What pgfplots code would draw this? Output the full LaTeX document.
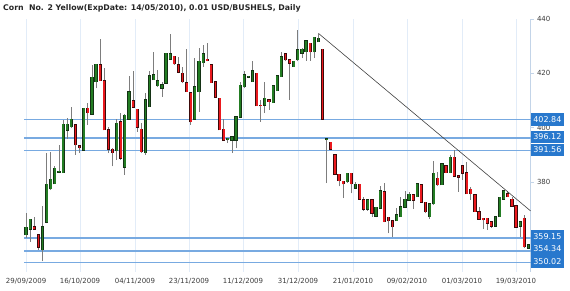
\documentclass[border=0pt]{standalone}
\usepackage{pgfplots}
\pgfplotsset{compat=1.18}
\usepackage{pgfplotstable}
\usepackage{fontspec}
\setmainfont{DejaVu Sans}
\definecolor{gridc}{RGB}{226,236,248}
\definecolor{hlc}{RGB}{120,170,225}
\definecolor{boxc}{RGB}{40,120,205}
\definecolor{axisc}{RGB}{195,212,232}
\definecolor{upc}{RGB}{35,125,35}
\definecolor{upo}{RGB}{20,50,20}
\definecolor{dnc}{RGB}{235,25,30}
\definecolor{dno}{RGB}{60,10,10}
\definecolor{wickc}{RGB}{125,125,125}
\definecolor{labc}{RGB}{60,60,60}
\pgfplotstableread{
i o h l c
0 360.3 368.3 359.1 363.1
1 362.4 366.1 357.8 366.1
2 363.4 367.1 362.2 362.4
3 360.3 360.3 354.8 355.8
4 354.8 371.0 350.5 363.4
5 365.0 390.7 364.6 379.0
6 377.3 391.1 376.9 380.9
7 379.2 385.6 379.2 384.9
8 383.5 393.6 383.1 383.5
9 383.3 402.8 383.3 401.2
10 398.9 403.4 395.7 401.2
11 400.3 407.5 399.7 403.0
12 401.0 401.0 389.9 393.6
13 393.2 393.2 390.5 392.6
14 391.7 407.1 391.7 407.1
15 407.1 409.2 401.0 405.5
16 405.0 423.1 405.0 418.6
17 417.0 423.4 414.5 423.4
18 423.1 432.7 417.3 417.3
19 417.3 421.9 399.1 399.1
20 399.1 400.3 390.5 392.0
21 392.0 392.3 385.6 390.7
22 391.5 403.0 388.0 401.6
23 402.2 405.3 388.0 388.6
24 385.3 405.0 382.5 404.6
25 403.0 419.1 403.0 413.3
26 409.9 421.0 407.1 407.5
27 406.7 406.7 398.5 400.1
28 399.4 401.8 390.5 391.1
29 390.7 412.7 389.9 410.2
30 407.7 420.7 407.5 419.1
31 417.6 427.8 417.6 419.4
32 415.5 421.3 415.1 417.3
33 414.5 417.0 411.4 415.7
34 416.3 427.4 416.3 427.4
35 425.2 434.6 425.2 427.2
36 426.4 426.4 423.1 423.5
37 423.1 426.0 420.0 420.4
38 420.0 422.5 416.3 417.0
39 416.6 428.9 413.3 413.3
40 412.9 412.9 401.0 402.2
41 403.0 425.6 403.0 415.1
42 413.3 429.3 405.9 424.4
43 424.0 430.5 422.3 427.2
44 425.2 431.1 424.4 424.7
45 423.1 423.1 416.6 416.6
46 417.0 417.0 411.2 411.2
47 410.8 410.8 399.1 399.1
48 399.4 403.0 395.2 395.2
49 395.4 396.0 394.2 396.0
50 395.2 396.6 390.5 396.6
51 395.2 404.0 392.3 404.0
52 403.8 417.0 403.8 415.6
53 415.1 420.7 414.5 419.4
54 418.6 419.0 418.2 418.6
55 417.0 424.4 417.0 421.0
56 420.0 420.0 408.0 408.0
57 408.3 410.2 402.2 408.0
58 408.3 417.0 405.3 410.8
59 410.2 410.2 406.5 409.6
60 409.2 415.4 409.2 415.4
61 413.6 419.4 413.6 419.1
62 418.8 428.0 418.8 426.2
63 427.2 427.4 424.4 425.0
64 425.0 425.0 410.2 423.7
65 422.5 424.4 422.5 424.4
66 425.0 436.1 424.4 428.7
67 427.4 429.3 425.6 428.9
68 428.0 432.1 424.7 432.1
69 431.1 431.4 424.7 428.0
70 428.0 433.3 425.6 433.3
71 431.7 434.6 431.7 433.0
72 428.9 428.9 403.0 403.0
73 395.5 395.8 379.4 395.5
74 394.5 394.5 392.0 392.0
75 389.9 389.9 382.8 382.8
76 382.8 382.8 378.2 380.4
77 380.1 380.1 373.9 379.2
78 380.0 383.1 379.6 383.1
79 383.1 383.1 375.7 379.2
80 377.6 380.0 377.6 379.0
81 379.0 379.0 373.5 373.5
82 373.2 374.5 369.3 369.8
83 369.8 373.2 369.3 373.2
84 373.2 373.2 367.1 368.3
85 367.3 370.5 366.8 370.5
86 370.2 378.4 370.2 376.6
87 376.3 379.6 364.9 365.2
88 366.8 366.8 360.9 365.5
89 365.6 365.6 359.7 363.4
90 365.5 370.2 365.5 367.7
91 367.1 374.5 367.1 370.8
92 370.5 376.7 370.2 373.5
93 373.2 376.3 373.2 375.3
94 375.1 375.1 369.8 373.2
95 374.5 379.4 374.5 379.2
96 378.8 378.8 372.3 372.3
97 372.3 372.3 368.3 368.9
98 367.1 371.8 366.1 371.8
99 371.8 387.7 371.4 383.1
100 381.3 383.7 378.4 378.8
101 378.8 386.5 378.8 386.5
102 385.8 385.8 383.1 383.3
103 383.3 389.9 383.1 389.0
104 389.0 391.7 381.6 381.9
105 382.1 382.1 376.3 381.6
106 385.8 385.8 380.6 383.1
107 383.3 387.4 375.5 375.5
108 377.2 377.9 373.2 375.5
109 375.1 375.1 368.9 368.9
110 368.9 370.8 365.9 366.1
111 366.5 366.5 362.4 365.9
112 366.5 366.5 362.2 364.6
113 365.2 365.2 362.8 363.6
114 363.6 367.3 363.4 367.1
115 367.1 374.2 367.1 374.2
116 373.5 376.9 373.5 376.7
117 375.5 376.7 374.5 374.5
118 373.5 374.5 370.8 371.0
119 371.0 371.0 363.2 363.2
120 363.6 365.2 359.5 365.2
121 366.5 367.5 355.4 356.0
122 355.4 356.6 355.4 356.6
}\candles
\tikzset{lvl/.style={fill=boxc, text=white, anchor=west, minimum width=33.3pt, minimum height=12.7pt, inner sep=0pt, font=\fontsize{8}{9}\selectfont}}
\begin{document}
\begin{tikzpicture}
\path[use as bounding box] (0,0) rectangle (570pt,291pt);
\node[anchor=west, inner sep=0pt, text=black!85, font=\bfseries\fontsize{7.8}{9}\selectfont] at (3pt,283pt) {Corn\ \ No. 2 Yellow(ExpDate: 14/05/2010), 0.01 USD/BUSHELS, Daily};
\begin{axis}[
  at={(24pt,19pt)}, anchor=south west,
  scale only axis, width=506.5pt, height=253pt,
  xmin=-0.5, xmax=122.5, ymin=346.6, ymax=440.1,
  axis y line*=right, axis x line*=bottom,
  x axis line style={draw=none},
  y axis line style={draw=axisc, line width=1pt},
  xtick={0,13.1,26.45,39.57,52.68,66.04,79.4,92.5,105.86,118.97},
  xticklabels={29/09/2009,16/10/2009,04/11/2009,23/11/2009,11/12/2009,31/12/2009,21/01/2010,09/02/2010,01/03/2010,19/03/2010},
  xmajorgrids, major x grid style={draw=gridc, line width=0.8pt},
  x tick style={draw=none},
  ytick={360,380,400,420,440},
  yticklabels={{},380,400,420,440},
  y tick style={draw=axisc},
  tick align=outside, major tick length=3pt,
  yticklabel style={font=\fontsize{7}{8}\selectfont, text=labc},
  xticklabel style={font=\fontsize{7}{8}\selectfont, text=labc},
  /pgf/number format/assume math mode=true,
  clip=false,
]
% support / resistance levels
\addplot[hlc, line width=1.3pt] coordinates {(-0.5,402.84) (122.5,402.84)};
\addplot[hlc, line width=1.3pt] coordinates {(-0.5,396.12) (122.5,396.12)};
\addplot[hlc, line width=1.3pt] coordinates {(-0.5,391.56) (122.5,391.56)};
\addplot[hlc, line width=1.3pt] coordinates {(-0.5,359.15) (122.5,359.15)};
\addplot[hlc, line width=1.3pt] coordinates {(-0.5,354.34) (122.5,354.34)};
\addplot[hlc, line width=1.3pt] coordinates {(-0.5,350.02) (122.5,350.02)};
% wicks
\addplot[draw=none, mark=none, error bars/.cd, y dir=plus, y explicit, error mark=none,
  error bar style={draw=wickc, line width=0.8pt}]
  table[x=i, y=l, y error plus expr=\thisrow{h}-\thisrow{l}] {\candles};
% bodies: outline
\addplot[draw=none, mark=none, restrict expr to domain={\thisrow{c}-\thisrow{o}}{0:1000}, error bars/.cd, y dir=plus, y explicit, error mark=none,
  error bar style={draw=upo, line width=3.2pt}]
  table[x=i, y expr={min(\thisrow{o},\thisrow{c})-0.2}, y error plus expr={max(abs(\thisrow{c}-\thisrow{o}),0.3)+0.4}] {\candles};
\addplot[draw=none, mark=none, restrict expr to domain={\thisrow{c}-\thisrow{o}}{-1000:-0.001}, error bars/.cd, y dir=plus, y explicit, error mark=none,
  error bar style={draw=dno, line width=3.2pt}]
  table[x=i, y expr={min(\thisrow{o},\thisrow{c})-0.2}, y error plus expr={max(abs(\thisrow{c}-\thisrow{o}),0.3)+0.4}] {\candles};
% bodies: fill
\addplot[draw=none, mark=none, restrict expr to domain={\thisrow{c}-\thisrow{o}}{0:1000}, error bars/.cd, y dir=plus, y explicit, error mark=none,
  error bar style={draw=upc, line width=1.8pt}]
  table[x=i, y expr={min(\thisrow{o},\thisrow{c})}, y error plus expr={max(abs(\thisrow{c}-\thisrow{o}),0.3)}] {\candles};
\addplot[draw=none, mark=none, restrict expr to domain={\thisrow{c}-\thisrow{o}}{-1000:-0.001}, error bars/.cd, y dir=plus, y explicit, error mark=none,
  error bar style={draw=dnc, line width=1.8pt}]
  table[x=i, y expr={min(\thisrow{o},\thisrow{c})}, y error plus expr={max(abs(\thisrow{c}-\thisrow{o}),0.3)}] {\candles};
% trend line
\addplot[black!75, line width=0.6pt] coordinates {(71,434.8) (122.5,369.2)};
\coordinate (b1) at (axis cs:122.5,402.91);
\coordinate (b2) at (axis cs:122.5,396.52);
\coordinate (b3) at (axis cs:122.5,391.72);
\coordinate (b4) at (axis cs:122.5,359.84);
\coordinate (b5) at (axis cs:122.5,355.15);
\coordinate (b6) at (axis cs:122.5,350.46);
\end{axis}
\node[lvl] at (b1) {402.84};
\node[lvl] at (b2) {396.12};
\node[lvl] at (b3) {391.56};
\node[lvl] at (b4) {359.15};
\node[lvl] at (b5) {354.34};
\node[lvl] at (b6) {350.02};
\end{tikzpicture}
\end{document}
